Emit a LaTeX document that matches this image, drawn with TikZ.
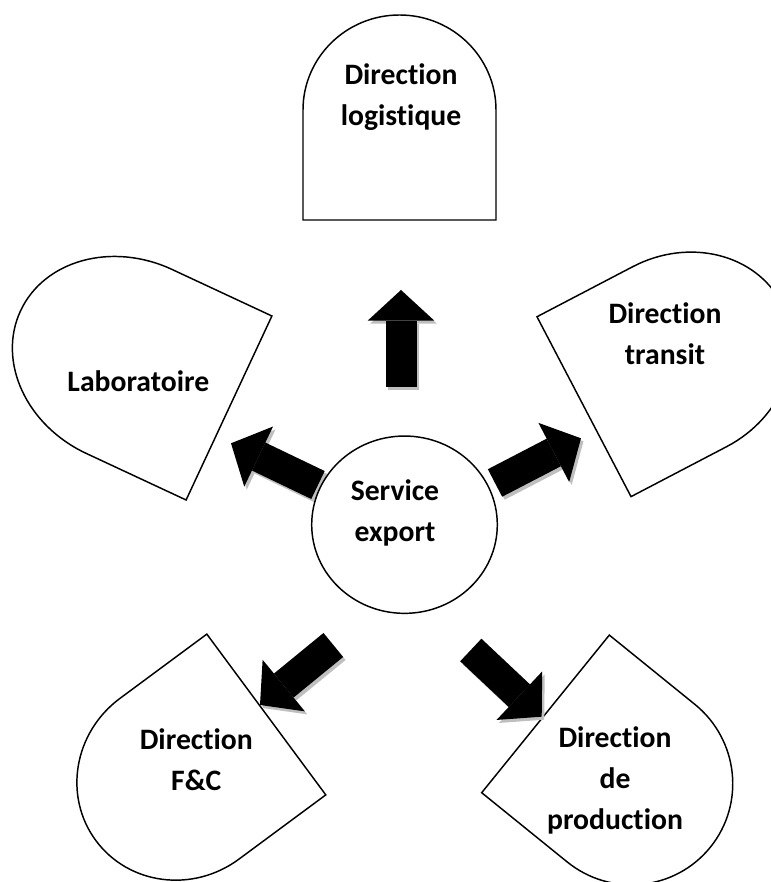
\documentclass[tikz,border=0pt]{standalone}
\usepackage{fontspec}
\setmainfont{Carlito}[Ligatures=NoCommon]
\usetikzlibrary{
    arrows.meta,
    calc,
    shapes.geometric
}

% flat side at #1, turned by #2, half width #3, straight part #4, round end #5
\newcommand{\dbox}[5]{%
    \begin{scope}[shift={(#1)}, rotate=#2]
        \draw[dshape] (0,-#3) -- (#4,-#3)
            arc[start angle=-90, end angle=90, x radius=#5, y radius=#3]
            -- (0,#3) -- cycle;
    \end{scope}}

\begin{document}
\begin{tikzpicture}[x=0.75pt, y=0.75pt,
    dshape/.style={line width=1.1pt, fill=white},
    lbl/.style={font=\bfseries\fontsize{22.25}{30.75}\selectfont, align=center, inner sep=0pt},
    blockarr/.style={line width=23.25pt, -{Triangle[width=50pt, length=23pt, line width=0pt]}},
    blockshadow/.style={blockarr, draw=black!25}
    ]
    \useasboundingbox (0,0) rectangle (771,882);
    \clip (0,0) rectangle (771,882);

    \dbox{399.5,662}{90}{96.5}{110}{95}
    \dbox{229,474}{155}{101.5}{110}{120}
    \dbox{584,475.3}{27.6}{101.5}{108}{115}
    \dbox{266.3,167.5}{216.5}{100}{108}{104}
    \dbox{545.5,168.1}{-39}{101.4}{110}{102}

    \coordinate (upt) at (401,495.3);
    \coordinate (uph) at (401,592);
    \coordinate (labt) at (318,397);
    \coordinate (labh) at (231,438.7);
    \coordinate (trat) at (495,399);
    \coordinate (trah) at (581,443.7);
    \coordinate (fct) at (333.3,237);
    \coordinate (fch) at (260,177);
    \coordinate (prot) at (470.8,232);
    \coordinate (proh) at (541.7,165.3);

    \draw[blockshadow] ($(upt)+(2.5,-3)$) -- ($(uph)+(2.5,-3)$);
    \draw[blockshadow] ($(labt)+(2.5,-3)$) -- ($(labh)+(2.5,-3)$);
    \draw[blockshadow] ($(trat)+(2.5,-3)$) -- ($(trah)+(2.5,-3)$);
    \draw[blockshadow] ($(fct)+(2.5,-3)$) -- ($(fch)+(2.5,-3)$);
    \draw[blockshadow] ($(prot)+(2.5,-3)$) -- ($(proh)+(2.5,-3)$);
    \draw
    (upt) edge[blockarr] (uph)
    (labt) edge[blockarr] (labh)
    (trat) edge[blockarr] (trah)
    (fct) edge[blockarr] (fch)
    (prot) edge[blockarr] (proh);

    \node[ellipse, draw, line width=1.1pt, fill=white, minimum width=185.6*0.75pt,
        minimum height=177.3*0.75pt, inner sep=0pt] (export) at (404.5,357.3) {};

    \node[lbl] (logtxt) at (401,784.5) {Direction\\logistique};
    \node[lbl] (labtxt) at (138.3,501) {Laboratoire};
    \node[lbl] (tratxt) at (665,548.6) {Direction\\transit};
    \node[lbl] (exptxt) at (395,369) {Service\\export};
    \node[lbl] (fctxt) at (196.3,122) {Direction\\F\&C};
    \node[lbl] (protxt) at (615,101.7) {Direction\\de\\production};
\end{tikzpicture}
\end{document}
